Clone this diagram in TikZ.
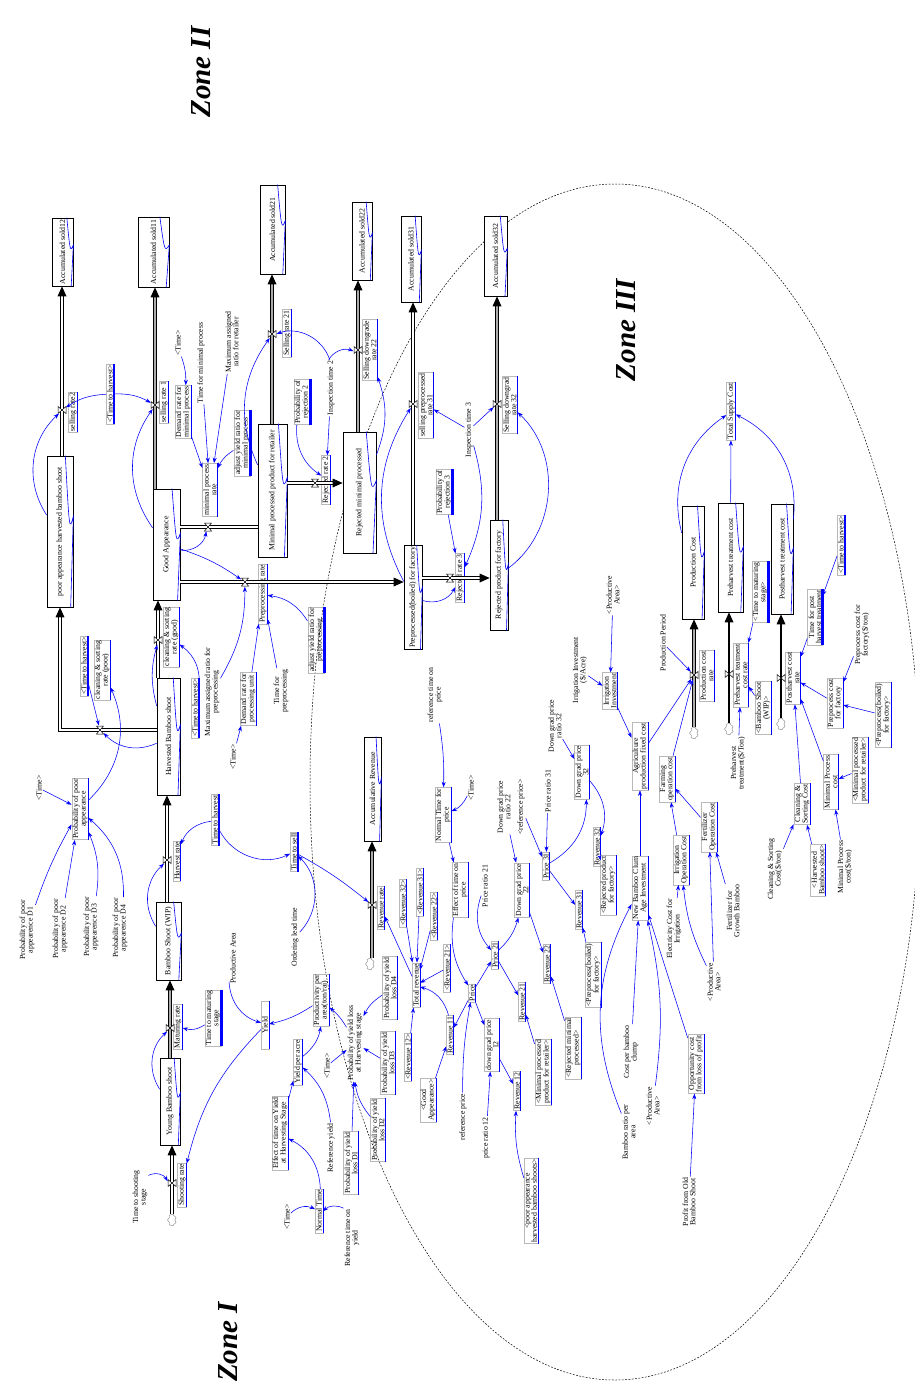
\documentclass[tikz,border=0pt]{standalone}
\usepackage{fontspec}
\setmainfont{Liberation Serif}
\usetikzlibrary{calc,arrows.meta,shapes.symbols}
\tikzset{
  every node/.append style={rotate=90, font=\fontsize{7.8}{7.4}\selectfont, align=center, inner sep=1pt},
  stock/.style={draw=black, line width=0.7pt, fill=white, inner sep=1.5pt},
  gv/.style={draw=gray!55, line width=0.4pt, append after command={(\tikzlastnode.south west) edge[draw=blue, line width=0.7pt] (\tikzlastnode.south east)}},
  bv/.style={draw=gray!55, line width=0.4pt, append after command={(\tikzlastnode.south west) edge[draw=blue, line width=2.6pt] (\tikzlastnode.south east)}},
  valve/.style={circle, minimum size=9pt, inner sep=0pt},
  cloudn/.style={cloud, cloud puffs=7, draw=gray, line width=0.4pt, fill=white, minimum width=12pt, minimum height=9pt, inner sep=0pt},
  conn/.style={draw=blue, line width=0.55pt, -{Stealth[length=5.5pt,width=4pt]}},
  pipe/.style={draw=black, line width=0.5pt, double=white, double distance=2.2pt},
  gpipe/.style={draw=black, line width=0.5pt, double=gray!65, double distance=2.8pt},
  spipe/.style={draw=black, line width=1.3pt},
  zone/.style={font=\fontsize{29}{29}\selectfont\bfseries\itshape},
  valveV/.pic={\draw[fill=white, line width=0.5pt] (-3.5,4)--(3.5,4)--(-3.5,-4)--(3.5,-4)--cycle;},
  valveH/.pic={\draw[fill=white, line width=0.5pt] (-4,3.5)--(-4,-3.5)--(4,3.5)--(4,-3.5)--cycle;},
}
\newcommand\flowV[4]{%
  \draw[#4] (#1 |- #2.east) -- ($(#1 |- #3.west)+(0,-7)$);
  \fill ($(#1 |- #3.west)$) -- ++(-4.5,-10) -- ++(9,0) -- cycle;
  \path (#1) pic {valveV};}
\newcommand\flowH[4]{%
  \draw[#4] (#1 -| #2.south) -- ($(#1 -| #3.north)+(-7,0)$);
  \fill ($(#1 -| #3.north)$) -- ++(-10,4.5) -- ++(0,-9) -- cycle;
  \path (#1) pic {valveH};}
\newcommand\sgraph[1]{%
  \draw[blue, line width=0.6pt] ($(#1.east)!0.4!(#1.south east)$) .. controls ($(#1.center)!0.7!(#1.south)$) .. ($(#1.south)!0.2!(#1.south east)$) -- ($(#1.south west)!0.1!(#1.north west)$);}
\begin{document}
\begin{tikzpicture}[x=1pt,y=1pt]
\useasboundingbox (0,0) rectangle (914,-1395);
\draw[line width=0.5pt, dash pattern=on 1.8pt off 1.5pt] (615,-782) ellipse [x radius=305, y radius=598];

% zones
\node[zone] (z2) at (201,-72) {Zone II};
\node[zone] (z3) at (626,-330) {Zone III};
\node[zone] (z1) at (228,-1342) {Zone I};

% stocks
\node[stock, minimum width=68pt, minimum height=21pt] (s12) at (62.5,-252) {Accumulated sold12};
\node[stock, minimum width=70pt, minimum height=31pt] (s11) at (153.5,-252) {Accumulated sold11};
\node[stock, minimum width=89pt, minimum height=25pt] (s21) at (272.5,-229.5) {Accumulated sold21};
\node[stock, minimum width=78pt, minimum height=20pt] (s22) at (362,-241) {Accumulated sold22};
\node[stock, minimum width=86pt, minimum height=20pt] (s31) at (411,-259) {Accumulated sold31};
\node[stock, minimum width=80pt, minimum height=23pt] (s32) at (495.5,-256) {Accumulated sold32};
\node[stock, minimum width=151pt, minimum height=26pt] (poor) at (60,-531.5) {poor appearance harvested bamboo shoot};
\node[stock, minimum width=111pt, minimum height=27pt] (good) at (166.5,-544.5) {Good Appearance};
\node[stock, minimum width=133pt, minimum height=29pt] (retail) at (272.5,-490.5) {Minimal processed product for retailer};
\node[stock, minimum width=121pt, minimum height=33pt] (rejmin) at (359.5,-492.5) {Rejected minimal processed};
\node[stock, minimum width=95pt, minimum height=18pt] (prep) at (413,-597.5) {Preprocessed(boiled) for factory};
\node[stock, minimum width=110pt, minimum height=18pt] (rejfac) at (499,-575) {Rejected product for factory};
\node[stock, minimum width=117pt, minimum height=23pt] (harv) at (168.5,-736.5) {Harvested Bamboo shoot};
\node[stock, minimum width=78pt, minimum height=25pt] (wip) at (168.5,-941) {Bamboo Shoot (WIP)};
\node[stock, minimum width=87pt, minimum height=20pt] (young) at (170,-1101.5) {Young Bamboo shoot};
\node[stock, minimum width=104pt, minimum height=17pt] (accrev) at (372.5,-789) {Accumulative Revenue};
\node[stock, minimum width=113pt, minimum height=22pt] (pcost) at (693,-562.5) {Production Cost};
\node[stock, minimum width=109pt, minimum height=25pt] (precost) at (730.5,-557.5) {Preharvest treatment cost};
\node[stock, minimum width=110pt, minimum height=22pt] (postcost) at (782,-559) {Postharvest treatment cost};
\foreach \n in {s12,s11,s21,s22,s31,s32,poor,good,retail,rejmin,prep,rejfac,harv,wip,young,accrev,pcost,precost,postcost} {\sgraph{\n}}

% top zone auxiliaries
\node (t1) at (178,-343) {<Time>};
\node[gv] (drmp) at (183,-412) {Demand rate for\\minimal process};
\node (tmp) at (201,-363) {Time for minimal process};
\node (marr) at (232,-342) {Maximum assigned\\ratio for retailer};
\node[bv] (ayrm) at (242,-443) {adjust yield ratio for\\minimal process};
\node[gv] (mpr) at (210,-490) {minimal process\\rate};
\node[bv] (tth1) at (110,-394) {<Time to harvest>};
\node[bv] (pr2) at (302,-402) {Probability of\\rejection 2};
\node (it2) at (331,-388) {Inspection time 2};
\node[bv] (pr3) at (444,-492) {Probability of\\rejection 3};
\node (it3) at (469,-430) {Inspection time 3};

% rate labels
\node[gv] (sr2) at (73,-412) {selling rate2};
\node[gv] (sr1) at (164,-402) {selling rate 1};
\node[gv] (sr21) at (287,-333) {Selling rate 21};
\node[gv] (sr22) at (370,-350) {Selling downgrade\\rate 22};
\node[gv] (sr31) at (426,-405) {selling preprocessed\\rate 31};
\node[gv] (sr32) at (510,-405) {Selling downgrad\\rate 32};
\node[gv] (rr2) at (326,-480) {Rejected rate 2};
\node[gv] (rr3) at (460,-578) {Rejected rate 3};
\node[gv] (ppr) at (263,-594) {Preprocessing rate};
\node[gv] (csp) at (102,-670) {cleaning \& sorting\\rate (poor)};
\node[gv] (csg) at (171,-637) {cleaning \& sorting\\rate (good)};

% left auxiliaries
\node[bv] (tth2) at (84,-666) {<Time to harvest>};
\node[bv] (tth3) at (195,-708) {<Time to harvest>};
\node (mapp) at (212,-692) {Maximum assigned ratio for\\preprocessing};
\node (t2) at (233,-757) {<Time>};
\node[gv] (drpu) at (248,-699) {Demand rate for\\processing unit};
\node (tpp) at (281,-691) {Time for\\preprocessing};
\node[bv] (ayrp) at (316,-640) {adjust yield ratio for\\preprocessing};
\node (t3) at (39,-788) {<Time>};
\node[gv] (ppa) at (80,-809) {Probability of poor\\appearance};
\node (d1) at (27,-930) {Probability of poor\\appearence D1};
\node (d2) at (60,-929) {Probability of poor\\appearence D2};
\node (d3) at (91,-927) {Probability of poor\\appearence D3};
\node (d4) at (120,-928) {Probability of poor\\appearence D4};

% harvest / yield
\node[bv] (tharv) at (215,-820) {Time to harvest};
\node[gv] (hr) at (177,-861) {Harvest rate};
\node[bv] (tsell) at (294,-852) {Time to sell};
\node (olt) at (295,-937) {Ordering lead time};
\node (pa1) at (233,-958) {Productive Area};
\node[gv, minimum width=48pt] (yld) at (265,-1025) {Yield};
\node[gv] (mr) at (178,-1027) {Maturing rate};
\node[bv] (ttms) at (213,-1018) {Time to maturing\\stage};
\node[gv] (ppar) at (321,-1000) {Productivity per\\area(ton/rai)};
\node (pylh) at (355,-1043) {Probability of yield loss\\at Harvesting stage};
\node (t4) at (327,-1066) {<Time>};
\node[gv] (pyl4) at (390,-988) {Probability of yield\\loss D4};
\node[gv] (pyl3) at (388,-1063) {Probability of yield\\loss D3};
\node[gv] (ypa) at (298,-1062) {Yield per acre};
\node[gv] (etyh) at (280,-1133) {Effect of time on Yield\\at Harvesting Stage};
\node (t5) at (287,-1217) {<Time>};
\node[gv] (ntm) at (319,-1211) {Normal Time};
\node (rty) at (352,-1238) {Reference time on\\yield};
\node (ry) at (331,-1148) {Reference yield};
\node[gv] (pyl1) at (351,-1163) {Probability of yield\\loss D1};
\node[gv] (pyl2) at (378,-1130) {Probability of yield\\loss D2};
\node (tss) at (140,-1197) {Time to shooting\\stage};
\node[gv] (shr) at (182,-1185) {Shooting rate};

% revenue
\node[gv] (rvr) at (381,-908) {Revenue rate};
\node[gv] (rv32s) at (403,-903) {<Revenue 32>};
\node[gv] (rv31s) at (420,-892) {<Revenue 31>};
\node[gv] (rv22s) at (434,-916) {<Revenue 22>};
\node[gv] (trev) at (416,-985) {Total revenue};
\node[gv] (rv21s) at (447,-968) {<Revenue 21>};
\node[gv] (rv12s) at (408,-1057) {<Revenue 12>};
\node[gv] (rv11) at (450,-1035) {Revenue 11};
\node[gv] (price) at (472,-993) {Price};
\node[gv] (etp) at (460,-890) {Effect of time on\\price};
\node[gv] (ntp) at (443,-815) {Normal Time for\\price};
\node (t6) at (471,-788) {<Time>};
\node (rtp) at (435,-695) {reference time on\\price};
\node (pr21r) at (485,-886) {Price ratio 21};
\node[gv] (p21) at (495,-955) {Price 21};
\node[gv] (dgp22) at (522,-890) {Down grad price\\22};
\node (dgpr22) at (504,-807) {Down grad price\\ratio 22};
\node (refp) at (521,-807) {<reference price>};
\node (pr31r) at (548,-791) {Price ratio 31};
\node[gv] (p31) at (546,-866) {Price 31};
\node[gv] (rv31) at (579,-910) {Revenue 31};
\node[gv] (rv32) at (597,-847) {Revenue 32};
\node[gv] (dgp32) at (582,-772) {Down grad price\\32};
\node (dgpr32) at (555,-726) {Down grad price\\ratio 32};
\node[gv] (rv21) at (522,-1002) {Revenue 21};
\node[gv] (rv22) at (547,-964) {Revenue 22};
\node[gv] (dgp12) at (492,-1045) {down grad price\\12};
\node[gv] (rpfs) at (608,-885) {<Rejected product\\for factory>};
\node[gv] (ppfs) at (593,-975) {<Preprocess(boiled)\\for factory>};
\node[gv] (rmps) at (573,-1048) {<Rejected minimal\\processed>};
\node[gv] (mprs) at (543,-1072) {<Minimal processed\\product for retailer>};
\node[gv] (rv12) at (517,-1091) {Revenue 12};
\node (prr12) at (486,-1138) {price ratio 12};
\node (rfp) at (463,-1117) {reference price};
\node[gv] (gas) at (428,-1100) {<Good\\Appearance>};
\node[gv] (pahs) at (531,-1201) {<poor appearance\\harvested bamboo shoots>};

% zone III
\node (iia) at (580,-670) {Irrigation Investment\\(\$/Acre)};
\node[gv] (iinv) at (610,-691) {Irrigation\\Investment};
\node (pa2) at (613,-595) {<Productive\\Area>};
\node[gv] (apfc) at (640,-756) {Agriculture\\production fixed cost};
\node (ppd) at (663,-643) {Production Period};
\node[gv] (pcr) at (707,-676) {Production cost\\rate};
\node[gv] (foc) at (667,-779) {Farming\\operation cost};
\node[gv] (ioc) at (681,-860) {Irrigation\\Operation Cost};
\node[gv] (fertoc) at (709,-827) {Fertilizer\\Operation Cost};
\node (eci) at (674,-929) {Electricity Cost for\\Irrigation};
\node (ffgb) at (733,-911) {Fertilizer for\\Growth Bamboo};
\node (pa3) at (714,-982) {<Productive\\Area>};
\node[gv] (nbc) at (640,-888) {New Bamboo Clum\\Age Investment};
\node (cpbc) at (631,-1052) {Cost per bamboo\\clump};
\node[gv] (opp) at (696,-1064) {Opportunity cost\\from loss of profit};
\node (brpa) at (629,-1132) {Bamboo ratio per\\area};
\node (pa4) at (653,-1106) {<Productive\\Area>};
\node (pfob) at (689,-1202) {Profit from Old\\Bamboo Shoot};
\node (pht) at (738,-763) {Preharvest\\treatment(\$/Ton)};
\node[gv] (bsw) at (763,-708) {<Bamboo Shoot\\(WIP)>};
\node[bv] (ttms2) at (760,-592) {<Time to maturing\\stage>};
\node[gv] (prcr) at (741,-675) {Preharvest teatment\\cost rate};
\node[gv] (pocr) at (793,-678) {Postharvest cost\\rate};
\node[bv] (tpht) at (815,-617) {Time for post\\harvest treatment};
\node[bv] (tth4) at (841,-545) {<Time to harvest>};
\node (pcff) at (862,-635) {Preprocess cost for\\factory(\$/ton)};
\node[gv] (pcf) at (835,-703) {Preprocess cost\\for factory};
\node[gv] (ppfs2) at (883,-715) {<Preprocess(boiled)\\for factory>};
\node[gv] (mprs2) at (860,-770) {<Minimal processed\\product for retailer>};
\node[gv] (mpc) at (831,-782) {Minimal Process\\cost};
\node (mpcd) at (845,-867) {Minimal Process\\cost(\$/ton)};
\node[gv] (hbs) at (818,-870) {<Harvested\\Bamboo shoot>};
\node[gv] (csc) at (802,-804) {Cleaning \&\\Sorting Cost};
\node (cscd) at (775,-869) {Cleaning \& Sorting\\Cost(\$/ton)};
\node[gv] (tsc) at (731,-411) {Total Supply Cost};

% valves and clouds
\node[valve] (v12) at (62,-410) {};
\node[valve] (v11) at (155,-405) {};
\node[valve] (v21) at (272,-334) {};
\node[valve] (v22) at (358,-350) {};
\node[valve] (v31) at (413,-404) {};
\node[valve] (v32) at (497,-404) {};
\node[valve] (vmp) at (208,-527) {};
\node[valve] (vpp) at (245,-582) {};
\node[valve] (vr2) at (315,-483) {};
\node[valve] (vr3) at (450,-578) {};
\node[valve] (vcg) at (158,-640) {};
\node[valve] (vcp) at (100,-730) {};
\node[valve] (vh) at (167,-860) {};
\node[valve] (vm) at (170,-1028) {};
\node[valve] (vs) at (172,-1183) {};
\node[valve] (vrev) at (372,-905) {};
\node[valve] (vpc) at (694,-675) {};
\node[valve] (vpre) at (729,-674) {};
\node[valve] (vpost) at (781,-678) {};
\node[cloudn] (cl1) at (172,-1220) {};
\node[cloudn] (cl2) at (370,-964) {};
\node[cloudn] (cl3) at (694,-733) {};
\node[cloudn] (cl4) at (729,-729) {};
\node[cloudn] (cl5) at (781,-724) {};

% flows
\flowV{v12}{poor}{s12}{pipe}
\flowV{v11}{good}{s11}{gpipe}
\flowV{v21}{retail}{s21}{gpipe}
\flowV{v22}{rejmin}{s22}{gpipe}
\flowV{v31}{prep}{s31}{pipe}
\flowV{v32}{rejfac}{s32}{gpipe}
\flowV{vcg}{harv}{good}{pipe}
\flowV{vh}{wip}{harv}{pipe}
\flowV{vm}{young}{wip}{gpipe}
\flowV{vs}{cl1}{young}{pipe}
\flowV{vrev}{cl2}{accrev}{gpipe}
\flowV{vpc}{cl3}{pcost}{gpipe}
\flowV{vpre}{cl4}{precost}{spipe}
\flowV{vpost}{cl5}{postcost}{spipe}
\flowH{vpp}{good}{prep}{pipe}
\flowH{vr2}{retail}{rejmin}{pipe}
\flowH{vr3}{prep}{rejfac}{pipe}
\draw[pipe] (vmp -| good.south) -- (vmp -| retail.north);
\path (vmp) pic {valveH};
\draw[pipe] (vcp -| harv.north) -- (vcp -| poor) -- ($(poor.west)+(0,-7)$);
\fill (poor.west) -- ++(-4.5,-10) -- ++(9,0) -- cycle;
\path (vcp) pic {valveH};

% connectors: zone II
\draw[conn] (poor) to[bend left=40] (v12);
\draw[conn] (tth1) to[bend right=15] (v12);
\draw[conn] (tth1) to[bend left=15] (v11);
\draw[conn] (good) to[bend left=35] (v11);
\draw[conn] (t1) to[bend left=10] (drmp);
\draw[conn] (drmp) -- (mpr);
\draw[conn] (tmp) -- (mpr);
\draw[conn] (marr) -- (mpr);
\draw[conn] (ayrm) to[bend right=15] (mpr);
\draw[conn] (retail) to[bend left=30] (v21);
\draw[conn] (it2) to[bend right=45] (v21);
\draw[conn] (it2) to[bend left=40] (v22);
\draw[conn] (it2) -- (rr2);
\draw[conn] (pr2) to[bend right=30] (rr2);
\draw[conn] (rejmin) to[bend right=20] (sr22);
\draw[conn] (prep) to[bend left=30] (v31);
\draw[conn] (it3) -- (sr31);
\draw[conn] (it3) -- (v32);
\draw[conn] (it3) to[bend left=20] (rr3);
\draw[conn] (rejfac) to[bend right=50] (sr32);
\draw[conn] (pr3) -- (rr3);
\draw[conn] (prep) to[bend right=40] (rr3);
\draw[conn] (harv) to[bend left=35] (vcp);
\draw[conn] (tth2) -- (vcp);
\draw[conn] (ppa) to[bend right=35] (csp);
\draw[conn] (t3) -- (ppa);
\draw[conn] (d1) to[bend left=5] (ppa);
\draw[conn] (d2) -- (ppa);
\draw[conn] (d3) to[bend right=15] (ppa);
\draw[conn] (d4) to[bend right=25] (ppa);
\draw[conn] (harv) to[bend left=15] (vcg);
\draw[conn] (tth3) to[bend right=30] (csg);
\draw[conn] (good) to[bend left=8] (vpp);
\draw[conn] (good) to[bend right=45] (vmp);
\draw[conn] (mapp) to[bend right=15] (vpp);
\draw[conn] (drpu) -- (ppr);
\draw[conn] (t2) -- (drpu);
\draw[conn] (tpp) -- (ppr);
\draw[conn] (ayrp) to[bend right=25] (ppr);

% connectors: zone I
\draw[conn] (wip) to[bend left=40] (vh);
\draw[conn] (tharv) to[bend right=30] (hr);
\draw[conn] (tharv) to[bend right=45] (tsell);
\draw[conn] (olt) to[bend right=45] (tsell);
\draw[conn] (tsell) to[bend left=5] (vrev);
\draw[conn] (young) to[bend left=40] (vm);
\draw[conn] (ttms) to[bend left=25] (mr);
\draw[conn] (pa1) to[bend right=35] (yld);
\draw[conn] (yld) to[bend right=15] (shr);
\draw[conn] (ppar) to[bend left=10] (yld);
\draw[conn] (ypa) to[bend right=20] (ppar);
\draw[conn] (pylh) to[bend right=10] (ppar);
\draw[conn] (etyh) -- (ypa);
\draw[conn] (ry) to[bend right=20] (ypa);
\draw[conn] (ntm) to[bend right=30] (etyh);
\draw[conn] (t5) to[bend left=35] (ntm);
\draw[conn] (rty) to[bend right=35] (ntm);
\draw[conn] (pyl1) -- (pylh);
\draw[conn] (pyl2) to[bend left=15] (pylh);
\draw[conn] (pyl4) to[bend right=15] (pylh);
\draw[conn] (pyl3) -- (pylh);
\draw[conn] (t4) -- (pylh);
\draw[conn] (tss) to[bend left=45] (vs);

% connectors: revenue
\draw[conn] (trev) -- (rvr);
\draw[conn] (rv32s) -- (trev);
\draw[conn] (rv31s) -- (trev);
\draw[conn] (rv22s) -- (trev);
\draw[conn] (rv21s) -- (trev);
\draw[conn] (rv12s) -- (trev);
\draw[conn] (rv11) to[bend right=30] (trev);
\draw[conn] (price) -- (rv11);
\draw[conn] (price) -- (p21);
\draw[conn] (etp) to[bend right=20] (price);
\draw[conn] (ntp) -- (etp);
\draw[conn] (t6) to[bend left=20] (ntp);
\draw[conn] (rtp) to[bend left=5] (ntp);
\draw[conn] (pr21r) to[bend right=30] (p21);
\draw[conn] (p21) to[bend right=15] (dgp22);
\draw[conn] (p21) -- (rv21);
\draw[conn] (dgpr22) -- (dgp22);
\draw[conn] (refp) -- (p31);
\draw[conn] (pr31r) -- (p31);
\draw[conn] (p31) -- (rv31);
\draw[conn] (p31) to[bend right=30] (dgp32);
\draw[conn] (dgp32) to[bend left=30] (rv32);
\draw[conn] (dgpr32) -- (dgp32);
\draw[conn] (rpfs) -- (rv32);
\draw[conn] (ppfs) -- (rv31);
\draw[conn] (dgp22) -- (rv22);
\draw[conn] (rmps) -- (rv22);
\draw[conn] (mprs) -- (rv21);
\draw[conn] (price) -- (dgp12);
\draw[conn] (dgp12) -- (rv12);
\draw[conn] (pahs) to[bend left=10] (rv12);
\draw[conn] (prr12) -- (dgp12);
\draw[conn] (rfp) to[bend left=5] (price);
\draw[conn] (gas) -- (rv11);

% connectors: zone III
\draw[conn] (iia) -- (iinv);
\draw[conn] (pa2) -- (iinv);
\draw[conn] (iinv) -- (apfc);
\draw[conn] (apfc) -- (vpc);
\draw[conn] (ppd) -- (vpc);
\draw[conn] (foc) -- (vpc);
\draw[conn] (nbc) -- (apfc);
\draw[conn] (ioc) -- (foc);
\draw[conn] (fertoc) -- (foc);
\draw[conn] (eci) -- (ioc);
\draw[conn] (pa3) to[bend left=10] (ioc);
\draw[conn] (pa3) -- (fertoc);
\draw[conn] (ffgb) -- (fertoc);
\draw[conn] (cpbc) -- (nbc);
\draw[conn] (brpa) to[bend left=25] (nbc);
\draw[conn] (pa4) to[bend right=10] (nbc);
\draw[conn] (opp) -- (nbc);
\draw[conn] (pfob) -- (opp);
\draw[conn] (pht) -- (prcr);
\draw[conn] (ttms2) -- (prcr);
\draw[conn] (bsw) -- (prcr);
\draw[conn] (pcost) to[bend left=35] (tsc);
\draw[conn] (precost) -- (tsc);
\draw[conn] (postcost) to[bend right=35] (tsc);
\draw[conn] (tpht) -- (pocr);
\draw[conn] (tth4) -- (tpht);
\draw[conn] (pcf) -- (pocr);
\draw[conn] (pcff) -- (pcf);
\draw[conn] (ppfs2) -- (pcf);
\draw[conn] (mpc) -- (pocr);
\draw[conn] (csc) -- (pocr);
\draw[conn] (mprs2) -- (mpc);
\draw[conn] (mpcd) -- (mpc);
\draw[conn] (hbs) -- (csc);
\draw[conn] (cscd) -- (csc);
\end{tikzpicture}
\end{document}
